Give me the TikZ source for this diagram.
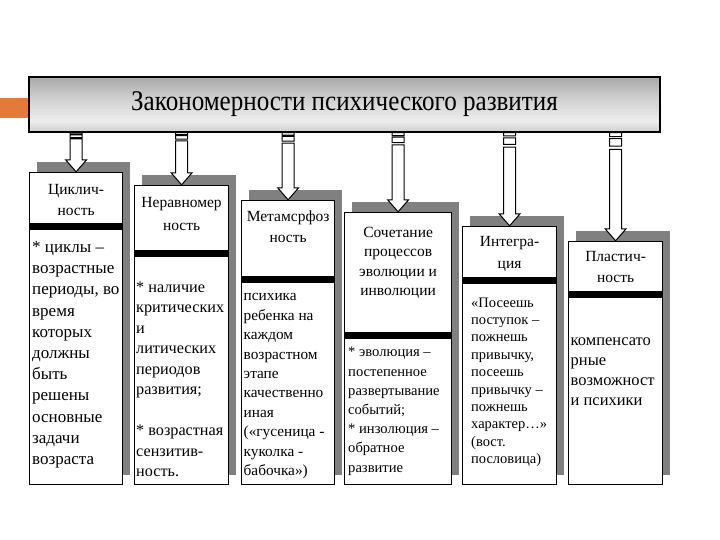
\documentclass[tikz,border=0pt]{standalone}
\usepackage{fontspec}
\setmainfont{Liberation Serif}
\newfontfamily\titlefont[FakeStretch=0.88]{Liberation Serif}
\usepackage{tikz}
\usetikzlibrary{calc,shadows}
\definecolor{accent}{RGB}{226,122,58}
\pgfdeclareverticalshading{titlebar}{100bp}{color(0bp)=(black!48); color(15bp)=(black!32); color(35bp)=(black!7); color(55bp)=(black!18); color(80bp)=(black!38); color(100bp)=(black!55)}
\newcommand{\hdsize}{\fontsize{15.5}{21}\selectfont}
% striped block arrow from the title bar down to a card
\newcommand{\stripearrow}[1]{%
  \draw[fatarr] let \p1=(#1.north), \p2=(title.south), \n1={\y2-\y1} in
    (\x1-6,\y2) rectangle (\x1+6,\y2-0.035*\n1)
    (\x1-6,\y2-0.055*\n1) rectangle (\x1+6,\y2-0.125*\n1)
    (\x1-6,\y2-0.155*\n1) -- (\x1-6,\y1+12) -- (\x1-10.5,\y1+12) -- (\x1,\y1)
    -- (\x1+10.5,\y1+12) -- (\x1+6,\y1+12) -- (\x1+6,\y2-0.155*\n1) -- cycle;}

\begin{document}
\begin{tikzpicture}[
  x=1pt, y=1pt,
  card/.style={draw, fill=white, line width=1.2pt, inner sep=0pt, anchor=south west,
               general shadow={fill=black!50, shadow xshift=7pt, shadow yshift=10pt}},
  head/.style={align=center, inner sep=0pt, font=\hdsize},
  body/.style={align=left, inner sep=0pt, anchor=west},
  bar/.style={fill=black},
  fatarr/.style={draw, fill=white, line width=1pt},
]
\path[fill=white] (0,0) rectangle (720,540);
\useasboundingbox (0,0) rectangle (720,540);

\node[draw, line width=1.5pt, shading=titlebar, minimum width=631, minimum height=55, inner sep=0pt]
  (title) at (344.5,435.5) {\titlefont\fontsize{28.5}{30}\selectfont Закономерности психического развития};
\node[fill=accent, minimum width=28, minimum height=20, inner sep=0pt, anchor=south west] (tab) at (0,421.7) {};

% cards
\node[card, minimum width=93, minimum height=312.5] (cyc) at (29,54.5) {};
\node[card, minimum width=94, minimum height=299.5] (uneven) at (134,54.5) {};
\node[card, minimum width=93, minimum height=284.5] (meta) at (241,54.5) {};
\node[card, minimum width=107, minimum height=272.5] (evo) at (344,54.5) {};
\node[card, minimum width=94, minimum height=258.5] (integ) at (462,54.5) {};
\node[card, minimum width=94, minimum height=243.5] (plast) at (568,54.5) {};

\fill[bar] ([yshift=-51]cyc.north west) rectangle ([yshift=-58.5]cyc.north east);
\fill[bar] ([yshift=-65]uneven.north west) rectangle ([yshift=-72.5]uneven.north east);
\fill[bar] ([yshift=-76]meta.north west) rectangle ([yshift=-83.5]meta.north east);
\fill[bar] ([yshift=-120]evo.north west) rectangle ([yshift=-127.5]evo.north east);
\fill[bar] ([yshift=-51]integ.north west) rectangle ([yshift=-58.5]integ.north east);
\fill[bar] ([yshift=-50]plast.north west) rectangle ([yshift=-57.5]plast.north east);

\node[head] (cyc-h) at ([yshift=-28]cyc.north) {Циклич-\\ность};
\node[head, font=\fontsize{15.5}{23}\selectfont] (uneven-h) at ([yshift=-29]uneven.north) {Неравномер\\ность};
\node[head] (meta-h) at ([yshift=-26.5]meta.north) {Метамсрфоз\\ность};
\node[head, font=\fontsize{15.5}{19.2}\selectfont] (evo-h) at ([yshift=-51]evo.north) {Сочетание\\процессов\\эволюции и\\инволюции};
\node[head, font=\fontsize{15.5}{22}\selectfont] (integ-h) at ([yshift=-28]integ.north) {Интегра-\\ция};
\node[head] (plast-h) at ([yshift=-26]plast.north) {Пластич-\\ность};

\node[body, font=\fontsize{17}{21.2}\selectfont] (cyc-b) at ([xshift=3,yshift=-183]cyc.north west)
  {* циклы –\\возрастные\\периоды, во\\время\\которых\\должны\\быть\\решены\\основные\\задачи\\возраста};
\node[body, font=\fontsize{16.2}{20.5}\selectfont] (uneven-b) at ([xshift=2,yshift=-194.5]uneven.north west)
  {* наличие\\критических\\и\\литических\\периодов\\развития;\\[20.5pt]{*} возрастная\\сензитив-\\ность.};
\node[body, font=\fontsize{15.3}{19.4}\selectfont] (meta-b) at ([xshift=2.5,yshift=-186.5]meta.north west)
  {психика\\ребенка на\\каждом\\возрастном\\этапе\\качественно\\иная\\(«гусеница -\\куколка -\\бабочка»)};
\node[body, font=\fontsize{14.6}{19.2}\selectfont] (evo-b) at ([xshift=4,yshift=-199.5]evo.north west)
  {* эволюция –\\постепенное\\развертывание\\событий;\\{*} инзолюция –\\обратное\\развитие};
\node[body, font=\fontsize{14.5}{17.4}\selectfont] (integ-b) at ([xshift=9,yshift=-156.5]integ.north west)
  {«Посеешь\\поступок –\\пожнешь\\привычку,\\посеешь\\привычку –\\пожнешь\\характер…»\\(вост.\\пословица)};
\node[body, font=\fontsize{16.5}{20}\selectfont] (plast-b) at ([xshift=2.5,yshift=-130.5]plast.north west)
  {компенсато\\рные\\возможност\\и психики};

\foreach \b in {cyc,uneven,meta,evo,integ,plast} {\stripearrow{\b}}
\end{tikzpicture}
\end{document}
